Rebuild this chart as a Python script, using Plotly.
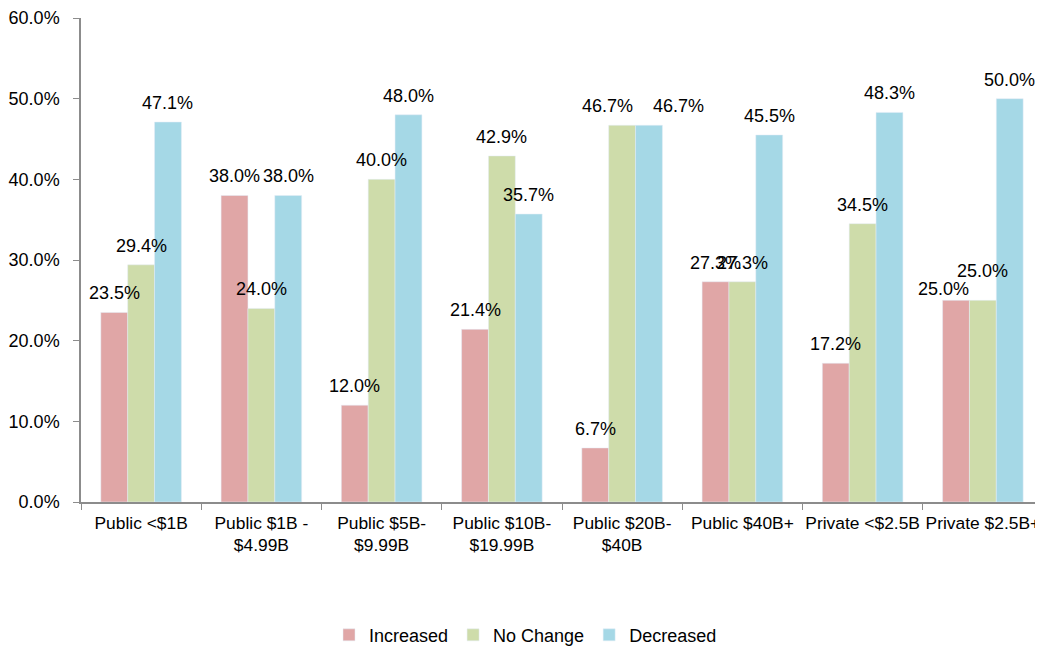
import plotly.graph_objects as go

categories = ["Public <$1B", "Public $1B -<br>$4.99B", "Public $5B-<br>$9.99B",
              "Public $10B-<br>$19.99B", "Public $20B-<br>$40B", "Public $40B+",
              "Private <$2.5B", "Private $2.5B+"]
increased = [0.235, 0.38, 0.12, 0.214, 0.067, 0.273, 0.172, 0.25]
no_change = [0.294, 0.24, 0.40, 0.429, 0.467, 0.273, 0.345, 0.25]
decreased = [0.471, 0.38, 0.48, 0.357, 0.467, 0.455, 0.483, 0.50]

series = [("Increased", increased, "#E0A6A6"),
          ("No Change", no_change, "#CEDCAA"),
          ("Decreased", decreased, "#A5D8E6")]

# manual label nudges seen in the reference (series index, category index) -> (dx, dy) px
label_nudge = {(1, 4): (-15, 0), (2, 4): (30, 0), (0, 7): (-13, -8), (1, 7): (0, 10)}

FS = 18
W, H = 1035, 638
ML, MR, MT, MB = 73, 0, 10, 144
BARGAP = 0.33

fig = go.Figure()
for name, vals, col in series:
    fig.add_trace(go.Bar(
        x=categories, y=vals, name=name, marker_color=col,
        hoverinfo="skip",
    ))

# pixel width of one bar inside a group, from the layout settings
bar_px = (W - ML - MR) / len(categories) * (1 - BARGAP) / len(series)
annotations = []
for si, (name, vals, col) in enumerate(series):
    base_dx = (si - (len(series) - 1) / 2) * bar_px
    for ci, (cat, v) in enumerate(zip(categories, vals)):
        dx, dy = label_nudge.get((si, ci), (0, 0))
        annotations.append(dict(
            x=cat, y=v, xref="x", yref="y", text=f"{v*100:.1f}%",
            showarrow=False, xanchor="center", yanchor="middle",
            xshift=base_dx + dx, yshift=19 + dy,
            font=dict(size=FS, color="#000000"),
        ))

fig.update_layout(
    width=W, height=H,
    margin=dict(l=ML, r=MR, t=MT, b=MB),
    paper_bgcolor="white", plot_bgcolor="white",
    barmode="group", bargap=BARGAP, bargroupgap=0,
    annotations=annotations,
    font=dict(family="Liberation Sans, Arial, sans-serif", size=FS, color="#000000"),
    legend=dict(orientation="h", xref="container", yref="container",
                x=0.5, xanchor="center", y=0.017, yanchor="middle",
                font=dict(size=FS), itemwidth=30, traceorder="normal"),
    xaxis=dict(showline=True, linecolor="#8C8C8C", linewidth=1.5, ticks="outside",
               tickson="boundaries", ticklen=6, tickcolor="#8C8C8C", showgrid=False,
               tickangle=0, automargin=False, ticklabelstandoff=4,
               tickfont=dict(size=17.4)),
    yaxis=dict(range=[0, 0.6], dtick=0.1, tickformat=".1%", showline=True,
               linecolor="#8C8C8C", linewidth=1.5, ticks="outside", ticklen=6,
               tickcolor="#8C8C8C", showgrid=False, zeroline=False,
               automargin=False, ticklabelstandoff=10),
)

fig.write_html("out.html")
